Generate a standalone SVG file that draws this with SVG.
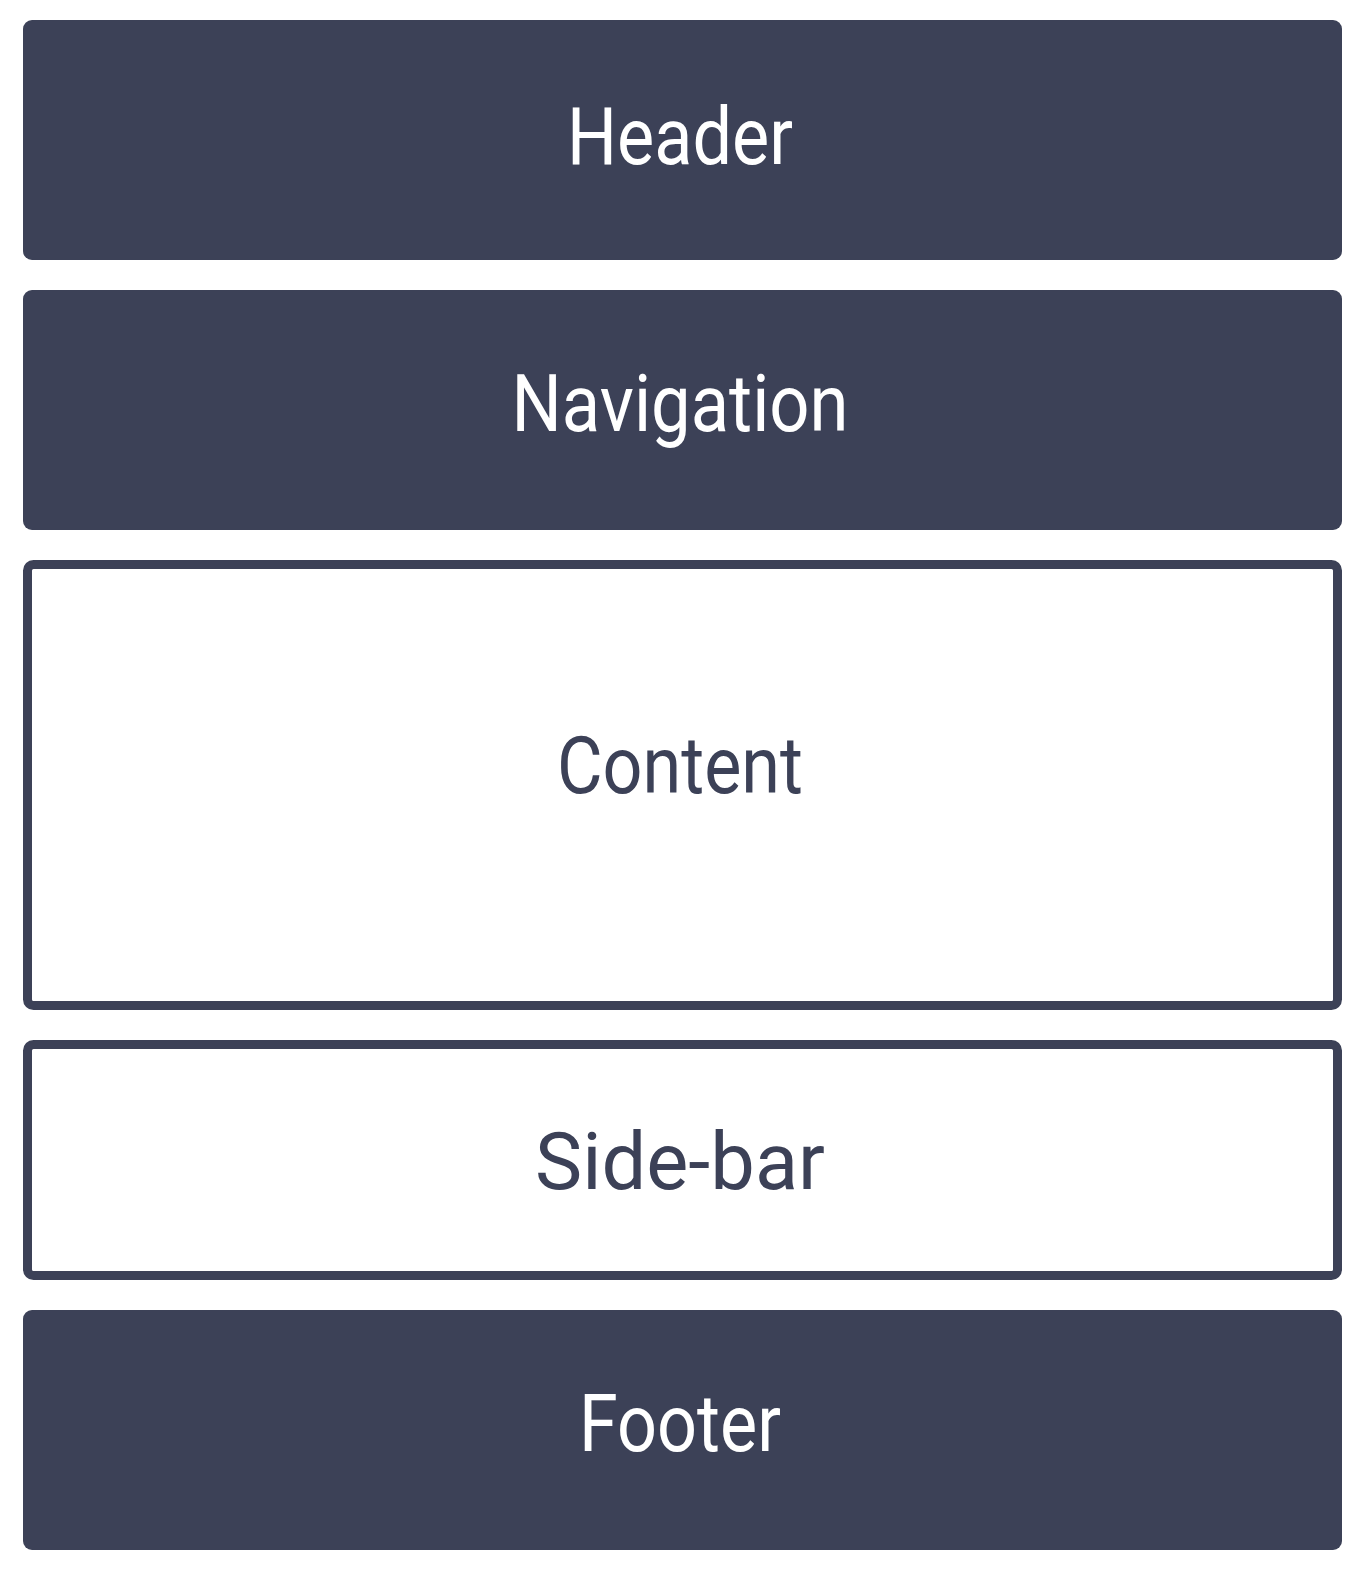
<svg xmlns="http://www.w3.org/2000/svg" width="1364" height="1571" viewBox="0 0 1364 1571">
<style>
.solid{fill:#3c4157;}
.outline{fill:#ffffff;stroke:#3c4157;stroke-width:9;}
.lbl{font-family:"Roboto","Liberation Sans",sans-serif;font-size:80px;text-anchor:middle;}
.light{fill:#ffffff;}
.dark{fill:#3c4157;}
</style>
<rect width="1364" height="1571" fill="#ffffff"/>
<g id="header">
<rect class="solid" x="23" y="20" width="1319" height="240" rx="9"/>
<text class="lbl light" x="680" y="164" textLength="226" lengthAdjust="spacingAndGlyphs">Header</text>
</g>
<g id="navigation">
<rect class="solid" x="23" y="290" width="1319" height="240" rx="9"/>
<text class="lbl light" x="680" y="431" textLength="337" lengthAdjust="spacingAndGlyphs">Navigation</text>
</g>
<g id="content">
<rect class="outline" x="27.5" y="564.5" width="1310" height="441" rx="6"/>
<text class="lbl dark" x="680" y="793" textLength="246" lengthAdjust="spacingAndGlyphs">Content</text>
</g>
<g id="sidebar">
<rect class="outline" x="27.5" y="1044.5" width="1310" height="231" rx="6"/>
<text class="lbl dark" x="680" y="1189" textLength="290" lengthAdjust="spacingAndGlyphs">Side-bar</text>
</g>
<g id="footer">
<rect class="solid" x="23" y="1310" width="1319" height="240" rx="9"/>
<text class="lbl light" x="680" y="1451" textLength="202" lengthAdjust="spacingAndGlyphs">Footer</text>
</g>
<g id="connectors"></g>
</svg>
